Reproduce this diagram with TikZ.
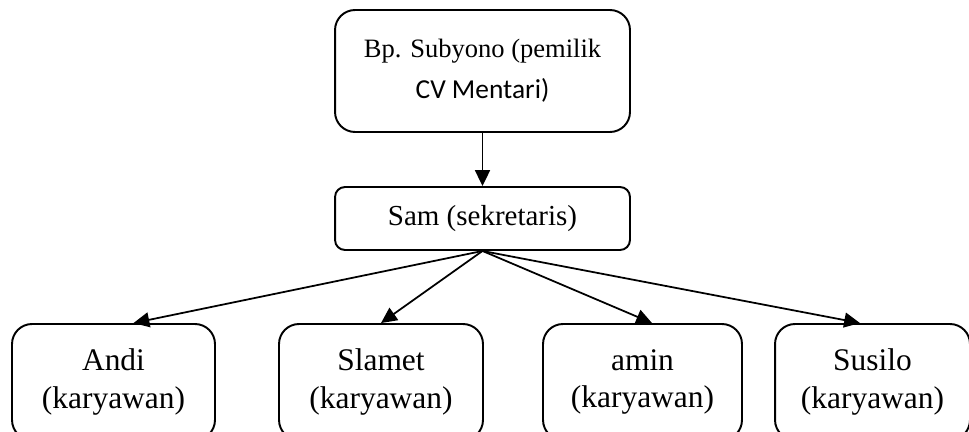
\documentclass[tikz,border=0pt]{standalone}
\usepackage{fontspec}
\setmainfont{Liberation Serif}
\newfontfamily\calibri{Carlito}
\usetikzlibrary{arrows.meta}

\begin{document}
\begin{tikzpicture}[x=0.02cm,y=-0.02cm,
  orgbox/.style={draw,line width=1.1pt,align=center,inner sep=0pt},
  orgarrow/.style={line width=1pt,-{Triangle[length=9pt,width=8.5pt]}}]
\useasboundingbox (0,0) rectangle (969,432);
\clip (0,0) rectangle (969,432);

%owner
\node (owner) [orgbox,rounded corners=0.4cm,minimum width=5.9cm,minimum height=2.44cm,
  font=\fontsize{15.1}{18}\selectfont] at (482.5,71)
  {Bp. Subyono (pemilik\\[0.18cm] {\calibri\fontsize{15.6}{18}\selectfont CV Mentari)}};

%secretary
\node (sam) [orgbox,rounded corners=0.2cm,minimum width=5.9cm,minimum height=1.26cm,
  font=\fontsize{16.5}{20}\selectfont] at (482.5,218.5) {Sam (sekretaris)};

%employees
\node (andi) [orgbox,rounded corners=0.4cm,minimum width=4.06cm,minimum height=2.32cm,
  font=\fontsize{17.9}{21.5}\selectfont] at (113.5,382) {Andi\\(karyawan)};
\node (slamet) [orgbox,rounded corners=0.4cm,minimum width=4.08cm,minimum height=2.32cm,
  font=\fontsize{17.9}{21.5}\selectfont] at (381,382) {Slamet\\(karyawan)};
\node (amin) [orgbox,rounded corners=0.4cm,minimum width=3.98cm,minimum height=2.32cm,
  font=\fontsize{17.9}{21.5}\selectfont] at (642.5,382) {amin\\(karyawan)};
\node (susilo) [orgbox,rounded corners=0.4cm,minimum width=3.9cm,minimum height=2.32cm,
  font=\fontsize{17.9}{21.5}\selectfont] at (872.5,382) {Susilo\\(karyawan)};

%arrows
\draw [orgarrow] (owner.south) -- (sam.north);
\draw [orgarrow] (sam.south) -- ([xshift=0.4cm]andi.north);
\draw [orgarrow] (sam.south) -- (slamet.north);
\draw [orgarrow] (sam.south) -- ([xshift=0.19cm]amin.north);
\draw [orgarrow] (sam.south) -- ([xshift=-0.25cm]susilo.north);
\end{tikzpicture}
\end{document}
